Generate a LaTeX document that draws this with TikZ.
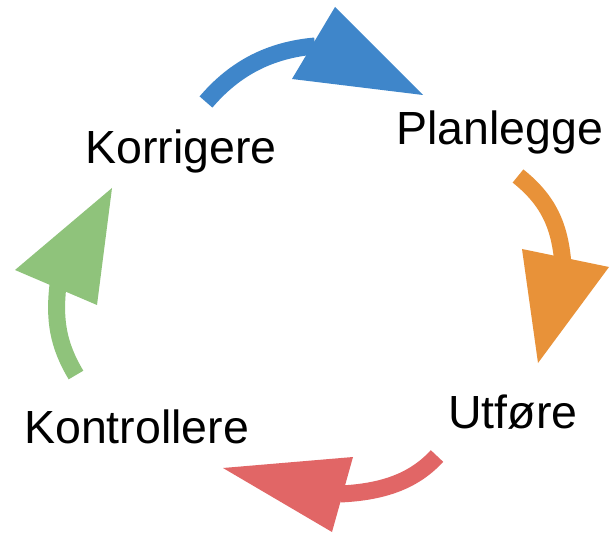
\documentclass[tikz,border=0pt]{standalone}
\usepackage{fontspec}
\setmainfont{Liberation Sans}
\definecolor{cblue}{RGB}{63,134,202}
\definecolor{corange}{RGB}{232,146,57}
\definecolor{cred}{RGB}{225,102,102}
\definecolor{cgreen}{RGB}{143,195,123}
\tikzset{
  shaft/.style={line width=17pt, line cap=butt},
  head/.style={draw=none},
  lbl/.style={anchor=base west, inner sep=0pt, font=\fontsize{46.5}{55}\selectfont}
}
\begin{document}
\begin{tikzpicture}[x=1pt,y=-1pt]
\fill[white] (0,0) rectangle (610,534);
\useasboundingbox (0,0) rectangle (610,534);
% labels
\node[lbl] (korr) at (85,164) {Korrigere};
\node[lbl] (plan) at (396,145) {Planlegge};
\node[lbl] (utf) at (448,428) {Utføre};
\node[lbl] (kont) at (24,443) {Kontrollere};
% arrow coordinates
\coordinate (bs) at (206,102); \coordinate (be) at (315,46);
\coordinate (os) at (518,176); \coordinate (oe) at (563,265);
\coordinate (rs) at (437,456); \coordinate (re) at (340,494);
\coordinate (gs) at (76,375);  \coordinate (ge) at (58,285);
% blue
\draw[shaft, cblue] (bs) .. controls (235,68) and (270,50) .. (be);
\fill[cblue] (335,7) -- (292,79) -- (423,95) -- cycle;
% orange
\draw[shaft, corange] (os) .. controls (548,200) and (560,225) .. (oe);
\fill[corange] (522,249) -- (609,267) -- (538,363) -- cycle;
% red
\draw[shaft, cred] (rs) .. controls (415,480) and (385,492) .. (re);
\fill[cred] (223,468) -- (353,457) -- (332,532) -- cycle;
% green
\draw[shaft, cgreen] (gs) .. controls (58,345) and (54,320) .. (ge);
\fill[cgreen] (112,188) -- (15,270) -- (97,305) -- cycle;
\end{tikzpicture}
\end{document}
